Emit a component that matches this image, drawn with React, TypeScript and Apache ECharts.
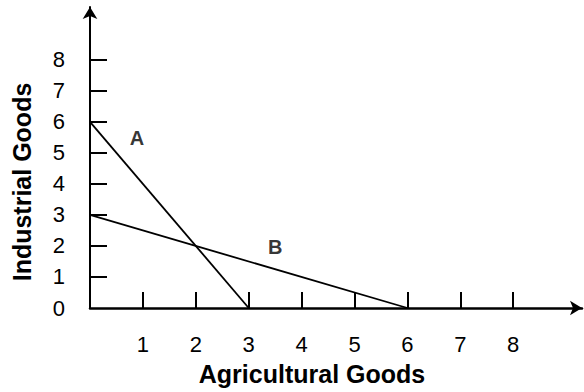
import React, { useEffect, useRef } from "react";
import * as echarts from "echarts";

const lineA: [number, number][] = [[0, 6], [3, 0]];
const lineB: [number, number][] = [[0, 3], [6, 0]];
const lineLabels = [
  { name: "A", value: [0.89, 5.48] },
  { name: "B", value: [3.5, 1.97] },
];
const xTicks = [1, 2, 3, 4, 5, 6, 7, 8];
const yTicks = [1, 2, 3, 4, 5, 6, 7, 8];
const yLabels = [0, 1, 2, 3, 4, 5, 6, 7, 8];
const xName = "Agricultural Goods";
const yName = "Industrial Goods";

const FONT = "'Liberation Sans', Arial, Helvetica, sans-serif";

export default function App() {
  const ref = useRef<HTMLDivElement>(null);
  useEffect(() => {
    if (!ref.current) return;
    const chart = echarts.init(ref.current, undefined, { renderer: "svg" });
    chart.setOption({
      animation: false,
      backgroundColor: "#ffffff",
      grid: { left: 90, right: 2, top: 7, bottom: 84 },
      xAxis: {
        type: "value",
        min: 0,
        max: 9.3,
        splitLine: { show: false },
        axisLine: {
          show: true,
          symbol: ["none", "arrow"],
          symbolSize: [11, 12],
          lineStyle: { color: "#000", width: 2.5 },
        },
        axisTick: {
          show: true,
          inside: true,
          length: 16,
          customValues: xTicks,
          lineStyle: { color: "#000", width: 2 },
        },
        axisLabel: {
          show: true,
          customValues: xTicks,
          margin: 25,
          color: "#000",
          fontSize: 22,
          fontFamily: FONT,
        },
      },
      yAxis: {
        type: "value",
        min: 0,
        max: 9.7,
        splitLine: { show: false },
        axisLine: {
          show: true,
          symbol: ["none", "arrow"],
          symbolSize: [11, 12],
          lineStyle: { color: "#000", width: 2 },
        },
        axisTick: {
          show: true,
          inside: true,
          length: 17,
          customValues: yTicks,
          lineStyle: { color: "#000", width: 2 },
        },
        axisLabel: {
          show: true,
          customValues: yLabels,
          margin: 25,
          color: "#000",
          fontSize: 22,
          fontFamily: FONT,
        },
      },
      series: [
        {
          type: "line",
          data: lineA,
          showSymbol: false,
          lineStyle: { color: "#000", width: 1.8 },
        },
        {
          type: "line",
          data: lineB,
          showSymbol: false,
          lineStyle: { color: "#000", width: 1.8 },
        },
        {
          type: "scatter",
          data: lineLabels,
          symbolSize: 0,
          label: {
            show: true,
            position: "inside",
            formatter: "{b}",
            color: "#000",
            fontSize: 20,
            fontWeight: "bold",
            fontFamily: FONT,
          },
        },
      ],
      graphic: [
        {
          type: "text",
          x: 312,
          y: 374,
          style: {
            text: xName,
            fill: "#000",
            font: `bold 25px ${FONT}`,
            align: "center",
            verticalAlign: "middle",
          },
        },
        {
          type: "text",
          x: 22,
          y: 182,
          rotation: Math.PI / 2,
          style: {
            text: yName,
            fill: "#000",
            font: `bold 25px ${FONT}`,
            align: "center",
            verticalAlign: "middle",
          },
        },
      ],
    });
    return () => chart.dispose();
  }, []);
  return (
    <div
      ref={ref}
      style={{ position: "fixed", left: 0, top: 0, width: 584, height: 392 }}
    />
  );
}
